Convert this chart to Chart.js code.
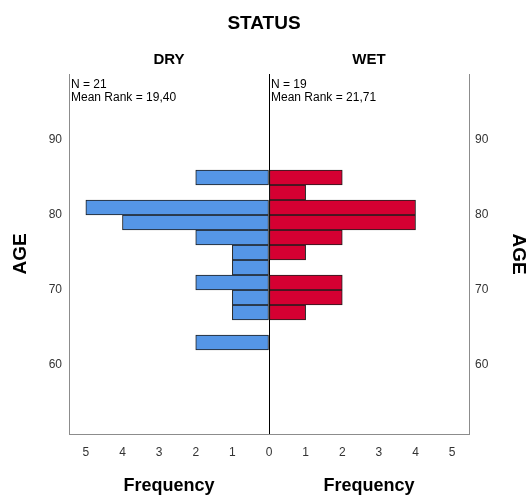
<!DOCTYPE html>
<html>
<head>
<meta charset="utf-8">
<script src="https://cdn.jsdelivr.net/npm/chart.js@4/dist/chart.umd.min.js"></script>
<style>
    body { margin: 0; background: #fff; }
    canvas { display: block; }
</style>
</head>
<body>
<canvas id="pyramid" width="528" height="498"></canvas>
<script>
// age bins (midpoints, width 2) and frequency per group
const ageBins = [63, 65, 67, 69, 71, 73, 75, 77, 79, 81, 83, 85];
const dryFreq = [2, 0, 1, 1, 2, 1, 1, 2, 4, 5, 0, 2];
const wetFreq = [0, 0, 1, 2, 2, 0, 1, 2, 4, 4, 1, 2];
const groupNames = ['DRY', 'WET'];
const groupStats = [['N = 21', 'Mean Rank = 19,40'], ['N = 19', 'Mean Rank = 21,71']];
const freqTicks = [-5, -4, -3, -2, -1, 0, 1, 2, 3, 4, 5];
const ageTicks = [60, 70, 80, 90];

const FONT = 'Arial, "Liberation Sans", sans-serif';

function toPoints(freqs, sign) {
    return ageBins
        .map((age, i) => ({ x: sign * freqs[i], y: age }))
        .filter(p => p.x !== 0);
}

// texts that chart.js has no slot for: panel headers, stats, x titles
const panelText = {
    id: 'panelText',
    afterDraw(chart) {
        const ctx = chart.ctx;
        const area = chart.chartArea;
        const x0 = chart.scales.x.getPixelForValue(0);
        const centers = [(area.left + x0) / 2, (x0 + area.right) / 2];
        const lefts = [area.left, x0];
        ctx.save();
        ctx.fillStyle = '#000';
        ctx.textAlign = 'center';
        ctx.textBaseline = 'middle';
        ctx.font = 'bold 15px ' + FONT;
        groupNames.forEach((name, i) => ctx.fillText(name, centers[i], 60));
        ctx.font = 'bold 18px ' + FONT;
        centers.forEach(c => ctx.fillText('Frequency', c, 486));
        ctx.textAlign = 'left';
        ctx.font = '12px ' + FONT;
        groupStats.forEach((lines, i) => {
            ctx.fillText(lines[0], lefts[i] + 2, 85);
            ctx.fillText(lines[1], lefts[i] + 2, 98);
        });
        ctx.restore();
    }
};

const ageAxis = (position) => ({
    type: 'linear',
    position: position,
    min: 50.8,
    max: 98.8,
    offset: false,
    afterBuildTicks: scale => { scale.ticks = ageTicks.map(v => ({ value: v })); },
    afterFit: scale => { scale.width = position === 'left' ? 69 : 59; },
    grid: { display: false, offset: false, drawTicks: false },
    border: { display: true, color: '#8c8c8c' },
    ticks: { color: '#333', font: { size: 12, family: FONT }, padding: position === 'left' ? 7 : 6 },
    title: {
        display: true,
        text: 'AGE',
        color: '#000',
        font: { size: 19, weight: 'bold', family: FONT, lineHeight: 1 },
        padding: { top: position === 'left' ? 11 : 0, bottom: 0 }
    }
});

new Chart(document.getElementById('pyramid'), {
    type: 'bar',
    data: {
        datasets: [
            {
                label: 'DRY',
                data: toPoints(dryFreq, -1),
                backgroundColor: '#5596e6',
                borderColor: '#1e1e1e',
                borderWidth: 1,
                borderSkipped: false,
                yAxisID: 'y'
            },
            {
                label: 'WET',
                data: toPoints(wetFreq, 1),
                backgroundColor: '#d50032',
                borderColor: '#1e1e1e',
                borderWidth: 1,
                borderSkipped: false,
                yAxisID: 'y'
            }
        ]
    },
    options: {
        indexAxis: 'y',
        responsive: false,
        animation: false,
        grouped: false,
        categoryPercentage: 1,
        barPercentage: 1,
        layout: { padding: 0 },
        scales: {
            x: {
                type: 'linear',
                min: -5.46,
                max: 5.46,
                afterBuildTicks: scale => { scale.ticks = freqTicks.map(v => ({ value: v })); },
                afterFit: scale => { scale.height = 64; },
                grid: {
                    drawTicks: false,
                    color: c => (c.tick && c.tick.value === 0 ? '#000' : 'rgba(0,0,0,0)')
                },
                border: { display: true, color: '#8c8c8c' },
                ticks: {
                    color: '#333',
                    padding: 11,
                    font: { size: 12, family: FONT },
                    callback: v => Math.abs(v)
                }
            },
            y: ageAxis('left'),
            y2: ageAxis('right')
        },
        plugins: {
            legend: { display: false },
            tooltip: { enabled: false },
            title: {
                display: true,
                text: 'STATUS',
                color: '#000',
                font: { size: 19, weight: 'bold', family: FONT, lineHeight: 1.2 },
                padding: { top: 12, bottom: 39.2 }
            }
        }
    },
    plugins: [panelText]
});
</script>
</body>
</html>
